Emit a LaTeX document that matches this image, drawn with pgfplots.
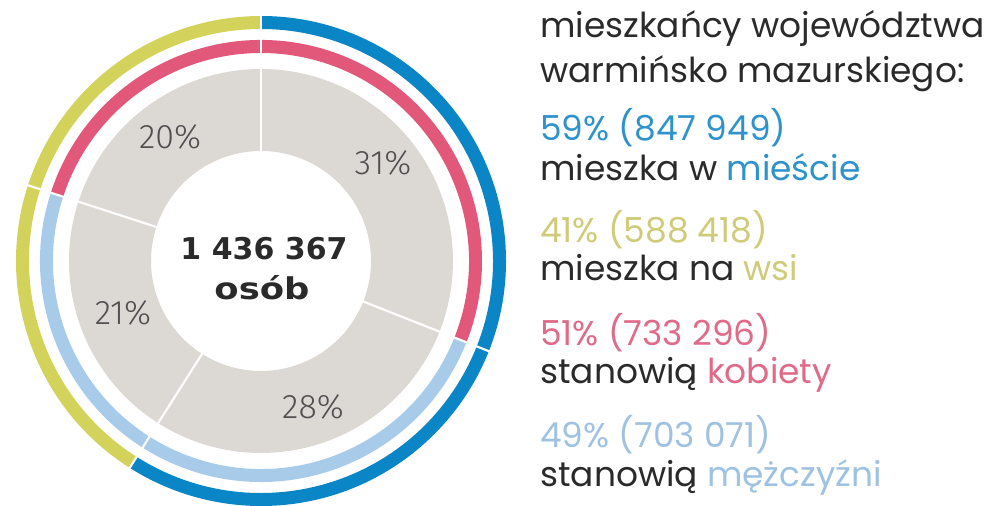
\documentclass[border=0pt]{standalone}
\usepackage{fontspec}
\usepackage{pgfplots}
\pgfplotsset{compat=1.18}
\usetikzlibrary{calc}
\setmainfont{Poppins}
\newfontfamily\bignum{DejaVu Sans}
\newfontfamily\pctfont{Fira Sans Light}

\definecolor{ringblue}{HTML}{0A86C6}
\definecolor{ringyellow}{HTML}{D3D35C}
\definecolor{ringred}{HTML}{E2587A}
\definecolor{ringlight}{HTML}{A9CBEA}
\definecolor{greyfill}{HTML}{DCD8D4}
\definecolor{txtblue}{HTML}{2E93CC}
\definecolor{txtyellow}{HTML}{CFCB78}
\definecolor{txtred}{HTML}{E06A88}
\definecolor{txtlight}{HTML}{9FC2E2}
\definecolor{txtdark}{HTML}{2A2A2A}
\definecolor{pctgrey}{HTML}{505050}

% ring segment: from %, to % (clockwise from 12 o'clock), inner r, outer r, colour
\newcommand\seg[5]{%
  \fill[#5] ($(axis cs:261,245)+({90-3.6*#1}:#4)$)
    arc[start angle={90-3.6*#1}, end angle={90-3.6*#2}, radius=#4]
    -- ($(axis cs:261,245)+({90-3.6*#2}:#3)$)
    arc[start angle={90-3.6*#2}, end angle={90-3.6*#1}, radius=#3] -- cycle;}
\newcommand\cut[1]{%
  \draw[white, line width=1.6pt] ($(axis cs:261,245)+({90-3.6*#1}:104)$) -- ($(axis cs:261,245)+({90-3.6*#1}:250)$);}

\begin{document}
\begin{tikzpicture}
\begin{axis}[
  width=738.75pt, height=379.5pt, scale only axis,
  xmin=0, xmax=985, ymin=0, ymax=506, disabledatascaling,
  hide axis, clip=false,
]
\coordinate (BL) at (rel axis cs:0,0);
\coordinate (TR) at (rel axis cs:1,1);
% inner grey ring: 31 / 28 / 21 / 20
\seg{0}{31}{110}{192}{greyfill}
\seg{31}{59}{110}{192}{greyfill}
\seg{59}{80}{110}{192}{greyfill}
\seg{80}{100}{110}{192}{greyfill}
% middle ring: kobiety 51, mezczyzni 49
\seg{-20}{31}{208}{221}{ringred}
\seg{31}{80}{208}{221}{ringlight}
% outer ring: miasto 59, wies 41
\seg{0}{59}{232}{245}{ringblue}
\seg{59}{100}{232}{245}{ringyellow}
\cut{0}\cut{31}\cut{59}\cut{80}

\node[pctgrey, font=\pctfont\fontsize{25.5pt}{25.5pt}\selectfont] at (axis cs:383,343) {31\%};
\node[pctgrey, font=\pctfont\fontsize{25.5pt}{25.5pt}\selectfont] at (axis cs:313,99) {28\%};
\node[pctgrey, font=\pctfont\fontsize{25.5pt}{25.5pt}\selectfont] at (axis cs:123,193) {21\%};
\node[pctgrey, font=\pctfont\fontsize{25.5pt}{25.5pt}\selectfont] at (axis cs:170,369) {20\%};

\node[txtdark, anchor=base, font=\bignum\bfseries\fontsize{22.5pt}{22.5pt}\selectfont] at (axis cs:264,246) {1 436 367};
\node[txtdark, anchor=base, font=\bignum\bfseries\fontsize{22.5pt}{22.5pt}\selectfont] at (axis cs:262,206) {\scalebox{1.18}[1]{osób}};

\begin{scope}[every node/.style={anchor=base west, inner sep=0pt, font=\fontsize{25.8pt}{25.8pt}\selectfont}]
\node[txtdark] at (axis cs:540,468) {mieszkańcy województwa};
\node[txtdark] at (axis cs:540,423) {warmińsko mazurskiego:};
\node[txtblue] at (axis cs:540,365) {59\% (847 949)};
\node[txtdark] at (axis cs:540,325) {mieszka w \textcolor{txtblue}{mieście}};
\node[txtyellow] at (axis cs:540,263) {41\% (588 418)};
\node[txtdark] at (axis cs:540,225) {mieszka na \textcolor{txtyellow}{wsi}};
\node[txtred] at (axis cs:540,160) {51\% (733 296)};
\node[txtdark] at (axis cs:540,122) {stanowią \textcolor{txtred}{kobiety}};
\node[txtlight] at (axis cs:540,58) {49\% (703 071)};
\node[txtdark] at (axis cs:540,19) {stanowią \textcolor{txtlight}{mężczyźni}};
\end{scope}
\end{axis}
\pgfresetboundingbox
\path (BL) rectangle (TR);
\end{tikzpicture}
\end{document}
